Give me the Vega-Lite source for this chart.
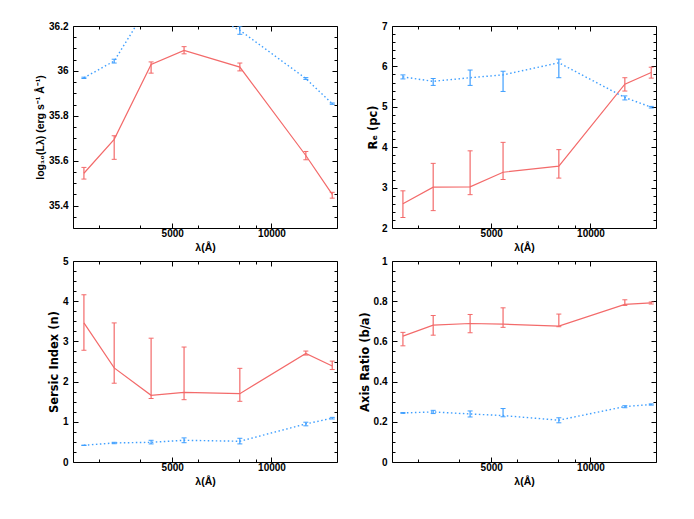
{
  "$schema": "https://vega.github.io/schema/vega-lite/v6.json",
  "padding": {"left": 35, "top": 20, "right": 5, "bottom": 5},
  "columns": 2,
  "spacing": {"row": 33, "column": 55},
  "bounds": "flush",
  "datasets": {
    "L": [
      {"s": "red", "lam": 550, "v": 35.544, "lo": 35.518, "hi": 35.57},
      {"s": "red", "lam": 2075, "v": 35.695, "lo": 35.606, "hi": 35.711},
      {"s": "red", "lam": 3935, "v": 36.029, "lo": 35.99, "hi": 36.04},
      {"s": "red", "lam": 5595, "v": 36.091, "lo": 36.076, "hi": 36.108},
      {"s": "red", "lam": 8405, "v": 36.017, "lo": 36.0, "hi": 36.035},
      {"s": "red", "lam": 11730, "v": 35.623, "lo": 35.604, "hi": 35.641},
      {"s": "red", "lam": 13060, "v": 35.45, "lo": 35.433, "hi": 35.459},
      {"s": "blue", "lam": 550, "v": 35.969, "lo": 35.966, "hi": 35.972},
      {"s": "blue", "lam": 2075, "v": 36.044, "lo": 36.035, "hi": 36.052},
      {"s": "blue", "lam": 3935, "v": 36.31, "lo": 36.3, "hi": 36.32},
      {"s": "blue", "lam": 5595, "v": 36.31, "lo": 36.3, "hi": 36.32},
      {"s": "blue", "lam": 8405, "v": 36.181, "lo": 36.163, "hi": 36.2},
      {"s": "blue", "lam": 11730, "v": 35.966, "lo": 35.962, "hi": 35.97},
      {"s": "blue", "lam": 13060, "v": 35.854, "lo": 35.851, "hi": 35.857}
    ],
    "R": [
      {"s": "red", "lam": 550, "v": 2.6, "lo": 2.26, "hi": 2.92},
      {"s": "red", "lam": 2075, "v": 3.01, "lo": 2.43, "hi": 3.6},
      {"s": "red", "lam": 3935, "v": 3.02, "lo": 2.825, "hi": 3.91},
      {"s": "red", "lam": 5595, "v": 3.38, "lo": 3.2, "hi": 4.12},
      {"s": "red", "lam": 8405, "v": 3.53, "lo": 3.235, "hi": 3.94},
      {"s": "red", "lam": 11730, "v": 5.56, "lo": 5.39, "hi": 5.72},
      {"s": "red", "lam": 13060, "v": 5.85, "lo": 5.71, "hi": 5.98},
      {"s": "blue", "lam": 550, "v": 5.74, "lo": 5.69, "hi": 5.79},
      {"s": "blue", "lam": 2075, "v": 5.63, "lo": 5.53, "hi": 5.7},
      {"s": "blue", "lam": 3935, "v": 5.72, "lo": 5.53, "hi": 5.91},
      {"s": "blue", "lam": 5595, "v": 5.79, "lo": 5.38, "hi": 5.88},
      {"s": "blue", "lam": 8405, "v": 6.09, "lo": 5.72, "hi": 6.18},
      {"s": "blue", "lam": 11730, "v": 5.23, "lo": 5.17, "hi": 5.27},
      {"s": "blue", "lam": 13060, "v": 4.99, "lo": 4.97, "hi": 5.01}
    ],
    "N": [
      {"s": "red", "lam": 550, "v": 3.46, "lo": 2.78, "hi": 4.16},
      {"s": "red", "lam": 2075, "v": 2.34, "lo": 1.96, "hi": 3.46},
      {"s": "red", "lam": 3935, "v": 1.66, "lo": 1.58, "hi": 3.08},
      {"s": "red", "lam": 5595, "v": 1.73, "lo": 1.55, "hi": 2.86},
      {"s": "red", "lam": 8405, "v": 1.7, "lo": 1.51, "hi": 2.33},
      {"s": "red", "lam": 11730, "v": 2.7, "lo": 2.66, "hi": 2.76},
      {"s": "red", "lam": 13060, "v": 2.39, "lo": 2.3, "hi": 2.51},
      {"s": "blue", "lam": 550, "v": 0.416, "lo": 0.41, "hi": 0.42},
      {"s": "blue", "lam": 2075, "v": 0.474, "lo": 0.455, "hi": 0.49},
      {"s": "blue", "lam": 3935, "v": 0.49, "lo": 0.45, "hi": 0.54},
      {"s": "blue", "lam": 5595, "v": 0.54, "lo": 0.48, "hi": 0.6},
      {"s": "blue", "lam": 8405, "v": 0.516, "lo": 0.45, "hi": 0.59},
      {"s": "blue", "lam": 11730, "v": 0.947, "lo": 0.9, "hi": 0.99},
      {"s": "blue", "lam": 13060, "v": 1.09, "lo": 1.07, "hi": 1.11}
    ],
    "Q": [
      {"s": "red", "lam": 550, "v": 0.626, "lo": 0.578, "hi": 0.645},
      {"s": "red", "lam": 2075, "v": 0.681, "lo": 0.631, "hi": 0.729},
      {"s": "red", "lam": 3935, "v": 0.689, "lo": 0.643, "hi": 0.734},
      {"s": "red", "lam": 5595, "v": 0.686, "lo": 0.67, "hi": 0.767},
      {"s": "red", "lam": 8405, "v": 0.676, "lo": 0.673, "hi": 0.736},
      {"s": "red", "lam": 11730, "v": 0.784, "lo": 0.779, "hi": 0.807},
      {"s": "red", "lam": 13060, "v": 0.792, "lo": 0.786, "hi": 0.796},
      {"s": "blue", "lam": 550, "v": 0.244, "lo": 0.242, "hi": 0.246},
      {"s": "blue", "lam": 2075, "v": 0.249, "lo": 0.241, "hi": 0.257},
      {"s": "blue", "lam": 3935, "v": 0.239, "lo": 0.224, "hi": 0.254},
      {"s": "blue", "lam": 5595, "v": 0.231, "lo": 0.225, "hi": 0.266},
      {"s": "blue", "lam": 8405, "v": 0.208, "lo": 0.195, "hi": 0.22},
      {"s": "blue", "lam": 11730, "v": 0.276, "lo": 0.27, "hi": 0.28},
      {"s": "blue", "lam": 13060, "v": 0.286, "lo": 0.283, "hi": 0.289}
    ]
  },
  "concat": [
    {
      "width": 264, "height": 202,
      "data": {"name": "L"},
      "resolve": {"axis": {"x": "independent", "y": "independent"}},
      "layer": [
        {"transform": [{"filter": "datum.s == 'red'"}],
         "mark": {"type": "line", "color": "#f36a6a", "strokeWidth": 1.2, "clip": true},
         "encoding": {
           "x": {"field": "lam", "type": "quantitative", "scale": {"domain": [0, 13300], "nice": false, "zero": false},
                 "axis": {"orient": "bottom", "title": "λ(Å)", "values": [1300, 3400, 5000, 6300, 8350, 9200, 10000], "format": "d", "labelExpr": "datum.value % 5000 == 0 ? datum.label : ''", "tickSize": {"condition": {"test": "datum.value % 5000 == 0", "value": -5}, "value": -3}, "labelPadding": 5, "titlePadding": 2}},
           "y": {"field": "v", "type": "quantitative", "scale": {"domain": [35.3, 36.2], "nice": false, "zero": false},
                 "axis": {"orient": "left", "title": "log₁₀(Lλ) (erg s⁻¹ Å⁻¹)", "titleFont": "Liberation Sans", "titleFontSize": 10.5, "values": [35.3,35.35,35.4,35.45,35.5,35.55,35.6,35.65,35.7,35.75,35.8,35.85,35.9,35.95,36,36.05,36.1,36.15,36.2], "format": "~g", "labelExpr": "abs(datum.value*5 - round(datum.value*5)) < 0.001 ? datum.label : ''", "tickSize": {"condition": {"test": "abs(datum.value*5 - round(datum.value*5)) < 0.001", "value": -5}, "value": -3}, "labelPadding": 10, "titlePadding": 3}}
         }},
        {"transform": [{"filter": "datum.s == 'red'"}],
         "mark": {"type": "rule", "color": "#f36a6a", "strokeWidth": 1.2, "clip": true},
         "encoding": {
           "x": {"field": "lam", "type": "quantitative", "scale": {"domain": [0, 13300], "nice": false, "zero": false}, "axis": null},
           "y": {"field": "lo", "type": "quantitative", "scale": {"domain": [35.3, 36.2], "nice": false, "zero": false}, "axis": null},
           "y2": {"field": "hi"}
         }},
        {"transform": [{"filter": "datum.s == 'red'"}, {"fold": ["lo", "hi"], "as": ["k", "c"]}],
         "mark": {"type": "tick", "orient": "horizontal", "size": 5, "thickness": 1, "opacity": 1, "color": "#f36a6a", "clip": true},
         "encoding": {
           "x": {"field": "lam", "type": "quantitative", "scale": {"domain": [0, 13300], "nice": false, "zero": false}, "axis": null},
           "y": {"field": "c", "type": "quantitative", "scale": {"domain": [35.3, 36.2], "nice": false, "zero": false}, "axis": null}
         }},
        {"transform": [{"filter": "datum.s == 'blue'"}],
         "mark": {"type": "line", "color": "#3f9fff", "strokeWidth": 1.4, "strokeDash": [1.5, 2.5], "clip": true},
         "encoding": {
           "x": {"field": "lam", "type": "quantitative", "scale": {"domain": [0, 13300], "nice": false, "zero": false},
                 "axis": {"orient": "top", "title": null, "labels": false, "values": [1300, 3400, 5000, 6300, 8350, 9200, 10000], "tickSize": {"condition": {"test": "datum.value % 5000 == 0", "value": -5}, "value": -3}}},
           "y": {"field": "v", "type": "quantitative", "scale": {"domain": [35.3, 36.2], "nice": false, "zero": false},
                 "axis": {"orient": "right", "title": null, "labels": false, "values": [35.3,35.35,35.4,35.45,35.5,35.55,35.6,35.65,35.7,35.75,35.8,35.85,35.9,35.95,36,36.05,36.1,36.15,36.2], "tickSize": {"condition": {"test": "abs(datum.value*5 - round(datum.value*5)) < 0.001", "value": -5}, "value": -3}}}
         }},
        {"transform": [{"filter": "datum.s == 'blue'"}],
         "mark": {"type": "rule", "color": "#3f9fff", "strokeWidth": 1.2, "clip": true},
         "encoding": {
           "x": {"field": "lam", "type": "quantitative", "scale": {"domain": [0, 13300], "nice": false, "zero": false}, "axis": null},
           "y": {"field": "lo", "type": "quantitative", "scale": {"domain": [35.3, 36.2], "nice": false, "zero": false}, "axis": null},
           "y2": {"field": "hi"}
         }},
        {"transform": [{"filter": "datum.s == 'blue'"}, {"fold": ["lo", "hi"], "as": ["k", "c"]}],
         "mark": {"type": "tick", "orient": "horizontal", "size": 5, "thickness": 1, "opacity": 1, "color": "#3f9fff", "clip": true},
         "encoding": {
           "x": {"field": "lam", "type": "quantitative", "scale": {"domain": [0, 13300], "nice": false, "zero": false}, "axis": null},
           "y": {"field": "c", "type": "quantitative", "scale": {"domain": [35.3, 36.2], "nice": false, "zero": false}, "axis": null}
         }}
      ]
    },
    {
      "width": 264, "height": 202,
      "data": {"name": "R"},
      "resolve": {"axis": {"x": "independent", "y": "independent"}},
      "layer": [
        {"transform": [{"filter": "datum.s == 'red'"}],
         "mark": {"type": "line", "color": "#f36a6a", "strokeWidth": 1.2, "clip": true},
         "encoding": {
           "x": {"field": "lam", "type": "quantitative", "scale": {"domain": [0, 13300], "nice": false, "zero": false},
                 "axis": {"orient": "bottom", "title": "λ(Å)", "values": [1300, 3400, 5000, 6300, 8350, 9200, 10000], "format": "d", "labelExpr": "datum.value % 5000 == 0 ? datum.label : ''", "tickSize": {"condition": {"test": "datum.value % 5000 == 0", "value": -5}, "value": -3}, "labelPadding": 5, "titlePadding": 2}},
           "y": {"field": "v", "type": "quantitative", "scale": {"domain": [2, 7], "nice": false, "zero": false},
                 "axis": {"orient": "left", "title": "Rₑ (pc)", "titleFont": "DejaVu Sans", "titleFontSize": 11.5, "values": [2,2.2,2.4,2.6,2.8,3,3.2,3.4,3.6,3.8,4,4.2,4.4,4.6,4.8,5,5.2,5.4,5.6,5.8,6,6.2,6.4,6.6,6.8,7], "format": "~g", "labelExpr": "abs(datum.value - round(datum.value)) < 0.001 ? datum.label : ''", "tickSize": {"condition": {"test": "abs(datum.value - round(datum.value)) < 0.001", "value": -5}, "value": -3}, "labelPadding": 10, "titlePadding": 3}}
         }},
        {"transform": [{"filter": "datum.s == 'red'"}],
         "mark": {"type": "rule", "color": "#f36a6a", "strokeWidth": 1.2, "clip": true},
         "encoding": {
           "x": {"field": "lam", "type": "quantitative", "scale": {"domain": [0, 13300], "nice": false, "zero": false}, "axis": null},
           "y": {"field": "lo", "type": "quantitative", "scale": {"domain": [2, 7], "nice": false, "zero": false}, "axis": null},
           "y2": {"field": "hi"}
         }},
        {"transform": [{"filter": "datum.s == 'red'"}, {"fold": ["lo", "hi"], "as": ["k", "c"]}],
         "mark": {"type": "tick", "orient": "horizontal", "size": 5, "thickness": 1, "opacity": 1, "color": "#f36a6a", "clip": true},
         "encoding": {
           "x": {"field": "lam", "type": "quantitative", "scale": {"domain": [0, 13300], "nice": false, "zero": false}, "axis": null},
           "y": {"field": "c", "type": "quantitative", "scale": {"domain": [2, 7], "nice": false, "zero": false}, "axis": null}
         }},
        {"transform": [{"filter": "datum.s == 'blue'"}],
         "mark": {"type": "line", "color": "#3f9fff", "strokeWidth": 1.4, "strokeDash": [1.5, 2.5], "clip": true},
         "encoding": {
           "x": {"field": "lam", "type": "quantitative", "scale": {"domain": [0, 13300], "nice": false, "zero": false},
                 "axis": {"orient": "top", "title": null, "labels": false, "values": [1300, 3400, 5000, 6300, 8350, 9200, 10000], "tickSize": {"condition": {"test": "datum.value % 5000 == 0", "value": -5}, "value": -3}}},
           "y": {"field": "v", "type": "quantitative", "scale": {"domain": [2, 7], "nice": false, "zero": false},
                 "axis": {"orient": "right", "title": null, "labels": false, "values": [2,2.2,2.4,2.6,2.8,3,3.2,3.4,3.6,3.8,4,4.2,4.4,4.6,4.8,5,5.2,5.4,5.6,5.8,6,6.2,6.4,6.6,6.8,7], "tickSize": {"condition": {"test": "abs(datum.value - round(datum.value)) < 0.001", "value": -5}, "value": -3}}}
         }},
        {"transform": [{"filter": "datum.s == 'blue'"}],
         "mark": {"type": "rule", "color": "#3f9fff", "strokeWidth": 1.2, "clip": true},
         "encoding": {
           "x": {"field": "lam", "type": "quantitative", "scale": {"domain": [0, 13300], "nice": false, "zero": false}, "axis": null},
           "y": {"field": "lo", "type": "quantitative", "scale": {"domain": [2, 7], "nice": false, "zero": false}, "axis": null},
           "y2": {"field": "hi"}
         }},
        {"transform": [{"filter": "datum.s == 'blue'"}, {"fold": ["lo", "hi"], "as": ["k", "c"]}],
         "mark": {"type": "tick", "orient": "horizontal", "size": 5, "thickness": 1, "opacity": 1, "color": "#3f9fff", "clip": true},
         "encoding": {
           "x": {"field": "lam", "type": "quantitative", "scale": {"domain": [0, 13300], "nice": false, "zero": false}, "axis": null},
           "y": {"field": "c", "type": "quantitative", "scale": {"domain": [2, 7], "nice": false, "zero": false}, "axis": null}
         }}
      ]
    },
    {
      "width": 264, "height": 201,
      "data": {"name": "N"},
      "resolve": {"axis": {"x": "independent", "y": "independent"}},
      "layer": [
        {"transform": [{"filter": "datum.s == 'red'"}],
         "mark": {"type": "line", "color": "#f36a6a", "strokeWidth": 1.2, "clip": true},
         "encoding": {
           "x": {"field": "lam", "type": "quantitative", "scale": {"domain": [0, 13300], "nice": false, "zero": false},
                 "axis": {"orient": "bottom", "title": "λ(Å)", "values": [1300, 3400, 5000, 6300, 8350, 9200, 10000], "format": "d", "labelExpr": "datum.value % 5000 == 0 ? datum.label : ''", "tickSize": {"condition": {"test": "datum.value % 5000 == 0", "value": -5}, "value": -3}, "labelPadding": 5, "titlePadding": 2}},
           "y": {"field": "v", "type": "quantitative", "scale": {"domain": [0, 5], "nice": false, "zero": false},
                 "axis": {"orient": "left", "title": "Sersic Index (n)", "titleFont": "DejaVu Sans", "titleFontSize": 11.5, "values": [0,0.25,0.5,0.75,1,1.25,1.5,1.75,2,2.25,2.5,2.75,3,3.25,3.5,3.75,4,4.25,4.5,4.75,5], "format": "~g", "labelExpr": "abs(datum.value - round(datum.value)) < 0.001 ? datum.label : ''", "tickSize": {"condition": {"test": "abs(datum.value - round(datum.value)) < 0.001", "value": -5}, "value": -3}, "labelPadding": 10, "titlePadding": 3}}
         }},
        {"transform": [{"filter": "datum.s == 'red'"}],
         "mark": {"type": "rule", "color": "#f36a6a", "strokeWidth": 1.2, "clip": true},
         "encoding": {
           "x": {"field": "lam", "type": "quantitative", "scale": {"domain": [0, 13300], "nice": false, "zero": false}, "axis": null},
           "y": {"field": "lo", "type": "quantitative", "scale": {"domain": [0, 5], "nice": false, "zero": false}, "axis": null},
           "y2": {"field": "hi"}
         }},
        {"transform": [{"filter": "datum.s == 'red'"}, {"fold": ["lo", "hi"], "as": ["k", "c"]}],
         "mark": {"type": "tick", "orient": "horizontal", "size": 5, "thickness": 1, "opacity": 1, "color": "#f36a6a", "clip": true},
         "encoding": {
           "x": {"field": "lam", "type": "quantitative", "scale": {"domain": [0, 13300], "nice": false, "zero": false}, "axis": null},
           "y": {"field": "c", "type": "quantitative", "scale": {"domain": [0, 5], "nice": false, "zero": false}, "axis": null}
         }},
        {"transform": [{"filter": "datum.s == 'blue'"}],
         "mark": {"type": "line", "color": "#3f9fff", "strokeWidth": 1.4, "strokeDash": [1.5, 2.5], "clip": true},
         "encoding": {
           "x": {"field": "lam", "type": "quantitative", "scale": {"domain": [0, 13300], "nice": false, "zero": false},
                 "axis": {"orient": "top", "title": null, "labels": false, "values": [1300, 3400, 5000, 6300, 8350, 9200, 10000], "tickSize": {"condition": {"test": "datum.value % 5000 == 0", "value": -5}, "value": -3}}},
           "y": {"field": "v", "type": "quantitative", "scale": {"domain": [0, 5], "nice": false, "zero": false},
                 "axis": {"orient": "right", "title": null, "labels": false, "values": [0,0.25,0.5,0.75,1,1.25,1.5,1.75,2,2.25,2.5,2.75,3,3.25,3.5,3.75,4,4.25,4.5,4.75,5], "tickSize": {"condition": {"test": "abs(datum.value - round(datum.value)) < 0.001", "value": -5}, "value": -3}}}
         }},
        {"transform": [{"filter": "datum.s == 'blue'"}],
         "mark": {"type": "rule", "color": "#3f9fff", "strokeWidth": 1.2, "clip": true},
         "encoding": {
           "x": {"field": "lam", "type": "quantitative", "scale": {"domain": [0, 13300], "nice": false, "zero": false}, "axis": null},
           "y": {"field": "lo", "type": "quantitative", "scale": {"domain": [0, 5], "nice": false, "zero": false}, "axis": null},
           "y2": {"field": "hi"}
         }},
        {"transform": [{"filter": "datum.s == 'blue'"}, {"fold": ["lo", "hi"], "as": ["k", "c"]}],
         "mark": {"type": "tick", "orient": "horizontal", "size": 5, "thickness": 1, "opacity": 1, "color": "#3f9fff", "clip": true},
         "encoding": {
           "x": {"field": "lam", "type": "quantitative", "scale": {"domain": [0, 13300], "nice": false, "zero": false}, "axis": null},
           "y": {"field": "c", "type": "quantitative", "scale": {"domain": [0, 5], "nice": false, "zero": false}, "axis": null}
         }}
      ]
    },
    {
      "width": 264, "height": 201,
      "data": {"name": "Q"},
      "resolve": {"axis": {"x": "independent", "y": "independent"}},
      "layer": [
        {"transform": [{"filter": "datum.s == 'red'"}],
         "mark": {"type": "line", "color": "#f36a6a", "strokeWidth": 1.2, "clip": true},
         "encoding": {
           "x": {"field": "lam", "type": "quantitative", "scale": {"domain": [0, 13300], "nice": false, "zero": false},
                 "axis": {"orient": "bottom", "title": "λ(Å)", "values": [1300, 3400, 5000, 6300, 8350, 9200, 10000], "format": "d", "labelExpr": "datum.value % 5000 == 0 ? datum.label : ''", "tickSize": {"condition": {"test": "datum.value % 5000 == 0", "value": -5}, "value": -3}, "labelPadding": 5, "titlePadding": 2}},
           "y": {"field": "v", "type": "quantitative", "scale": {"domain": [0, 1], "nice": false, "zero": false},
                 "axis": {"orient": "left", "title": "Axis Ratio (b/a)", "titleFont": "DejaVu Sans", "titleFontSize": 11.5, "values": [0,0.05,0.1,0.15,0.2,0.25,0.3,0.35,0.4,0.45,0.5,0.55,0.6,0.65,0.7,0.75,0.8,0.85,0.9,0.95,1], "format": "~g", "labelExpr": "abs(datum.value*5 - round(datum.value*5)) < 0.001 ? datum.label : ''", "tickSize": {"condition": {"test": "abs(datum.value*5 - round(datum.value*5)) < 0.001", "value": -5}, "value": -3}, "labelPadding": 10, "titlePadding": 3}}
         }},
        {"transform": [{"filter": "datum.s == 'red'"}],
         "mark": {"type": "rule", "color": "#f36a6a", "strokeWidth": 1.2, "clip": true},
         "encoding": {
           "x": {"field": "lam", "type": "quantitative", "scale": {"domain": [0, 13300], "nice": false, "zero": false}, "axis": null},
           "y": {"field": "lo", "type": "quantitative", "scale": {"domain": [0, 1], "nice": false, "zero": false}, "axis": null},
           "y2": {"field": "hi"}
         }},
        {"transform": [{"filter": "datum.s == 'red'"}, {"fold": ["lo", "hi"], "as": ["k", "c"]}],
         "mark": {"type": "tick", "orient": "horizontal", "size": 5, "thickness": 1, "opacity": 1, "color": "#f36a6a", "clip": true},
         "encoding": {
           "x": {"field": "lam", "type": "quantitative", "scale": {"domain": [0, 13300], "nice": false, "zero": false}, "axis": null},
           "y": {"field": "c", "type": "quantitative", "scale": {"domain": [0, 1], "nice": false, "zero": false}, "axis": null}
         }},
        {"transform": [{"filter": "datum.s == 'blue'"}],
         "mark": {"type": "line", "color": "#3f9fff", "strokeWidth": 1.4, "strokeDash": [1.5, 2.5], "clip": true},
         "encoding": {
           "x": {"field": "lam", "type": "quantitative", "scale": {"domain": [0, 13300], "nice": false, "zero": false},
                 "axis": {"orient": "top", "title": null, "labels": false, "values": [1300, 3400, 5000, 6300, 8350, 9200, 10000], "tickSize": {"condition": {"test": "datum.value % 5000 == 0", "value": -5}, "value": -3}}},
           "y": {"field": "v", "type": "quantitative", "scale": {"domain": [0, 1], "nice": false, "zero": false},
                 "axis": {"orient": "right", "title": null, "labels": false, "values": [0,0.05,0.1,0.15,0.2,0.25,0.3,0.35,0.4,0.45,0.5,0.55,0.6,0.65,0.7,0.75,0.8,0.85,0.9,0.95,1], "tickSize": {"condition": {"test": "abs(datum.value*5 - round(datum.value*5)) < 0.001", "value": -5}, "value": -3}}}
         }},
        {"transform": [{"filter": "datum.s == 'blue'"}],
         "mark": {"type": "rule", "color": "#3f9fff", "strokeWidth": 1.2, "clip": true},
         "encoding": {
           "x": {"field": "lam", "type": "quantitative", "scale": {"domain": [0, 13300], "nice": false, "zero": false}, "axis": null},
           "y": {"field": "lo", "type": "quantitative", "scale": {"domain": [0, 1], "nice": false, "zero": false}, "axis": null},
           "y2": {"field": "hi"}
         }},
        {"transform": [{"filter": "datum.s == 'blue'"}, {"fold": ["lo", "hi"], "as": ["k", "c"]}],
         "mark": {"type": "tick", "orient": "horizontal", "size": 5, "thickness": 1, "opacity": 1, "color": "#3f9fff", "clip": true},
         "encoding": {
           "x": {"field": "lam", "type": "quantitative", "scale": {"domain": [0, 13300], "nice": false, "zero": false}, "axis": null},
           "y": {"field": "c", "type": "quantitative", "scale": {"domain": [0, 1], "nice": false, "zero": false}, "axis": null}
         }}
      ]
    }
  ],
  "config": {
    "view": {"stroke": "black", "strokeWidth": 1},
    "axis": {
      "domain": false, "grid": false,
      "labelFont": "Liberation Sans", "labelFontWeight": "bold", "labelFontSize": 10, "labelColor": "black",
      "titleFont": "Liberation Sans", "titleFontWeight": "bold", "titleFontSize": 10.5, "titleColor": "black",
      "tickColor": "black", "tickWidth": 1, "labelOverlap": false, "labelFlush": false
    }
  }
}
